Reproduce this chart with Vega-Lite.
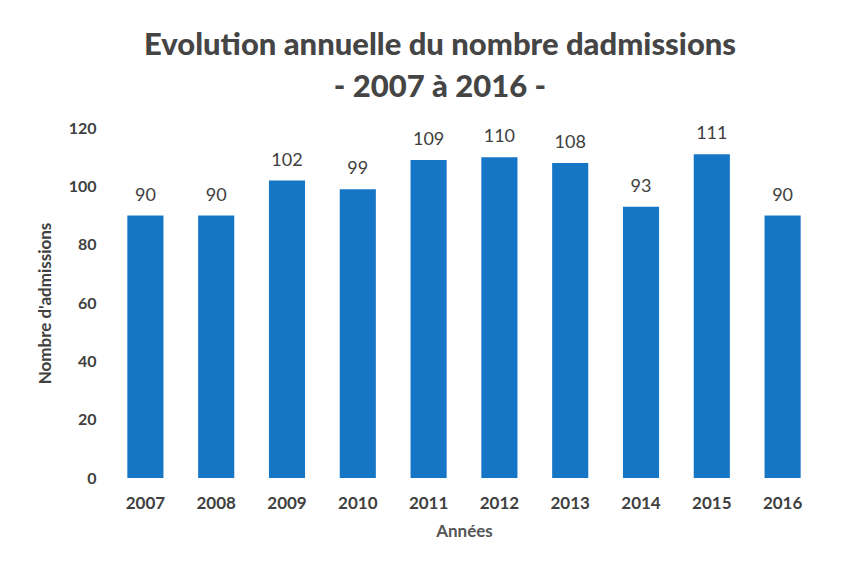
{
  "$schema": "https://vega.github.io/schema/vega-lite/v6.json",
  "autosize": {"type": "none"},
  "width": 708,
  "height": 350,
  "padding": {"left": 110, "top": 128, "right": 24, "bottom": 84},
  "background": "white",
  "title": {
    "text": ["Evolution annuelle du nombre dadmissions", "- 2007 à 2016 -"],
    "font": "Lato",
    "fontSize": 31,
    "fontWeight": 900,
    "color": "#454545",
    "anchor": "middle",
    "dx": -24,
    "offset": 16,
    "lineHeight": 42
  },
  "data": {
    "values": [
      {"annee": "2007", "admissions": 90},
      {"annee": "2008", "admissions": 90},
      {"annee": "2009", "admissions": 102},
      {"annee": "2010", "admissions": 99},
      {"annee": "2011", "admissions": 109},
      {"annee": "2012", "admissions": 110},
      {"annee": "2013", "admissions": 108},
      {"annee": "2014", "admissions": 93},
      {"annee": "2015", "admissions": 111},
      {"annee": "2016", "admissions": 90}
    ]
  },
  "encoding": {
    "x": {
      "field": "annee",
      "type": "ordinal",
      "title": "Années",
      "scale": {"paddingInner": 0.49, "paddingOuter": 0.245},
      "axis": {
        "labelAngle": 0,
        "labelFont": "Lato",
        "labelFontSize": 17,
        "labelFontWeight": "bold",
        "labelColor": "#404040",
        "labelPadding": 17,
        "titleFont": "Lato",
        "titleFontSize": 17,
        "titleFontWeight": "bold",
        "titleColor": "#555555",
        "titlePadding": 12,
        "ticks": false,
        "domain": false
      }
    },
    "y": {
      "field": "admissions",
      "type": "quantitative",
      "title": "Nombre d'admissions",
      "scale": {"domain": [0, 120]},
      "axis": {
        "values": [0, 20, 40, 60, 80, 100, 120],
        "labelFont": "Lato",
        "labelFontSize": 16,
        "labelFontWeight": "bold",
        "labelColor": "#404040",
        "labelPadding": 14,
        "titleFont": "Lato",
        "titleFontSize": 17,
        "titleFontWeight": "bold",
        "titleColor": "#404040",
        "titlePadding": 14,
        "ticks": false,
        "domain": false,
        "grid": false
      }
    }
  },
  "layer": [
    {"mark": {"type": "bar", "color": "#1676c6"}},
    {
      "mark": {"type": "text", "dy": -11, "baseline": "bottom", "font": "Lato", "fontSize": 18, "color": "#404040"},
      "encoding": {"text": {"field": "admissions", "type": "quantitative"}}
    }
  ],
  "config": {"view": {"stroke": null}}
}
